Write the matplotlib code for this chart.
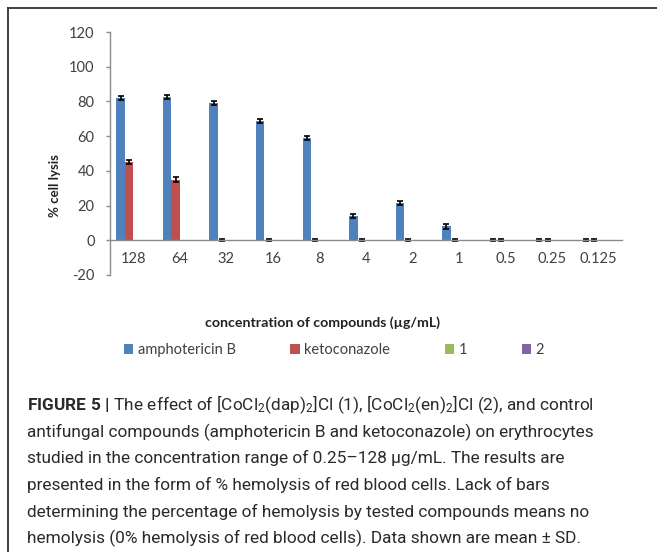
# hemolysis bar chart (Figure 5) with caption

import numpy as np
import matplotlib
matplotlib.use('Agg')
from matplotlib import pyplot as plt
from matplotlib.lines import Line2D

concentrations = ['128', '64', '32', '16', '8', '4', '2', '1', '0.5', '0.25', '0.125']
amphotericin_b = [82, 82.5, 79, 68.5, 59, 14, 21.5, 8, 0, 0, 0]
amphotericin_err = [1.2, 1.2, 1.1, 1.1, 1.0, 1.3, 1.2, 1.3, 0.6, 0.6, 0.6]
ketoconazole = [45, 35, 0, 0, 0, 0, 0, 0, 0, 0, 0]
ketoconazole_err = [1.2, 1.2, 0.6, 0.6, 0.6, 0.6, 0.6, 0.6, 0.6, 0.6, 0.6]
compound_1 = [0, 0, 0, 0, 0, 0, 0, 0, 0, 0, 0]
compound_2 = [0, 0, 0, 0, 0, 0, 0, 0, 0, 0, 0]
series_names = ['amphotericin B', 'ketoconazole', '1', '2']
yticks = [-20, 0, 20, 40, 60, 80, 100, 120]

caption_lines = [
    r'$\mathbf{FIGURE\ 5\ |}$ The effect of [CoCl$_2$(dap)$_2$]Cl (1), [CoCl$_2$(en)$_2$]Cl (2), and control',
    'antifungal compounds (amphotericin B and ketoconazole) on erythrocytes',
    'studied in the concentration range of 0.25\u2013128 \u03bcg/mL. The results are',
    'presented in the form of % hemolysis of red blood cells. Lack of bars',
    'determining the percentage of hemolysis by tested compounds means no',
    'hemolysis (0% hemolysis of red blood cells). Data shown are mean \u00b1 SD.',
]

plt.rcParams['font.family'] = ['Lato', 'DejaVu Sans']
plt.rcParams['axes.unicode_minus'] = False
plt.rcParams['mathtext.fontset'] = 'custom'
plt.rcParams['mathtext.rm'] = 'Roboto'
plt.rcParams['mathtext.bf'] = 'Roboto:bold'
plt.rcParams['mathtext.it'] = 'Roboto:italic'

colors = ['#4F81BD', '#C0504D', '#9BBB59', '#8064A2']
axis_grey = '#8C8C8C'
label_grey = '#404040'

fig = plt.figure(figsize=(6.57, 5.52), dpi=100)
ax = fig.add_axes([110/657, 1-275/552, 512/657, 243/552])

x = np.arange(len(concentrations)) + 0.5
w = 1/5.5
all_series = [amphotericin_b, ketoconazole, compound_1, compound_2]
for i, (vals, name) in enumerate(zip(all_series, series_names)):
    ax.bar(x + (i-1.5)*w, vals, w, color=colors[i], label=name)

ax.errorbar(x - 1.5*w, amphotericin_b, yerr=amphotericin_err, fmt='none',
            ecolor='black', elinewidth=1.2, capsize=2.2, capthick=1.2)
ax.errorbar(x - 0.5*w, ketoconazole, yerr=ketoconazole_err, fmt='none',
            ecolor='black', elinewidth=1.2, capsize=2.2, capthick=1.2)

ax.set_xlim(0, len(concentrations))
ax.set_ylim(-20, 120)
ax.set_yticks(yticks)
ax.set_xticks(x)
ax.set_xticklabels(concentrations)

for s in ['top', 'right']:
    ax.spines[s].set_visible(False)
ax.spines['bottom'].set_position(('data', 0))
ax.spines['bottom'].set_color(axis_grey)
ax.spines['left'].set_color(axis_grey)
ax.spines['bottom'].set_linewidth(1.0)
ax.spines['left'].set_linewidth(1.0)
ax.tick_params(axis='y', direction='out', length=3, width=1.0, color=axis_grey,
               pad=8, labelsize=10.5, labelcolor=label_grey)
ax.tick_params(axis='x', length=0, pad=8.5, labelsize=10.5, labelcolor=label_grey)

ax.set_ylabel('% cell lysis', fontsize=9.5, fontweight='bold', color='#222222')
ax.yaxis.set_label_coords(-0.096, 0.366)
ax.set_xlabel('concentration of compounds (\u00b5g/mL)', fontsize=10.2,
              fontweight='bold', color='#222222')
ax.xaxis.set_label_coords(0.416, -0.172)

leg = fig.legend(loc='center', bbox_to_anchor=(334/657, 1-350/552), ncol=4,
                 frameon=False, fontsize=10.5, handlelength=0.65, handleheight=0.65,
                 handletextpad=0.3, columnspacing=3.75, borderpad=0)
for t in leg.get_texts():
    t.set_color(label_grey)

# outer frame (left and top edges)
fig.add_artist(Line2D([8/657, 8/657], [0, 1-8/552], transform=fig.transFigure,
                      color='#333333', lw=1.3))
fig.add_artist(Line2D([8/657, 1], [1-8/552, 1-8/552], transform=fig.transFigure,
                      color='#333333', lw=1.3))

baselines = [410, 437, 463, 490, 517, 543]
for line, yb in zip(caption_lines, baselines):
    fig.text(27/657, 1-yb/552, line, fontsize=12.4, family='Roboto',
             color='#2A2A2A', va='baseline', ha='left')

fig.savefig('out.png', dpi=100)
